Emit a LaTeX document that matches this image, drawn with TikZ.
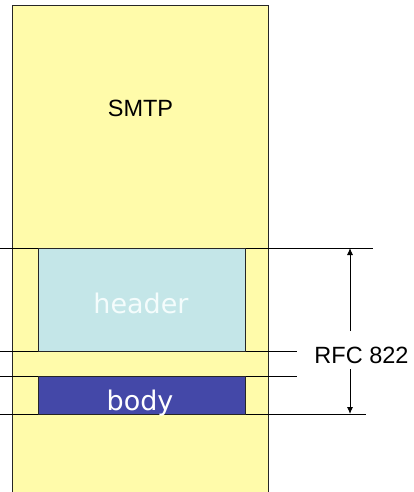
\documentclass[tikz,border=0pt]{standalone}
\usepackage{fontspec}
\setmainfont{Liberation Sans}
\newfontfamily\comicish{DejaVu Sans}
\usetikzlibrary{arrows.meta}
\definecolor{smtpyellow}{HTML}{FFFBAA}
\definecolor{hdrblue}{HTML}{C4E6E8}
\definecolor{bodyblue}{HTML}{4448A8}
\definecolor{hdrtext}{HTML}{F4FCFC}
\tikzset{
  part/.style={draw=black!85, line width=1pt, inner sep=0pt, anchor=north west},
  rule/.style={draw=black, line width=0.9pt},
  arial/.style={font=\fontsize{23.5}{26}\selectfont, text=black, inner sep=0pt, anchor=base},
  comic/.style={font=\comicish\fontsize{27}{30}\selectfont, inner sep=0pt, anchor=base},
  dim/.style={draw=black, line width=0.9pt, -{Latex[length=7pt,width=6pt]}}
}
\begin{document}
\begin{tikzpicture}[x=1pt,y=-1pt]
\useasboundingbox (0,0) rectangle (413,492);
\clip (0,0) rectangle (413,492);
% SMTP envelope
\node[part, fill=smtpyellow, minimum width=256pt, minimum height=500pt] (smtp) at (12,5) {};
\node[arial] (smtplabel) at (140.5,117) {SMTP};
% horizontal rules
\coordinate (l1a) at (0,248);   \coordinate (l1b) at (373,248);
\coordinate (l2a) at (0,351);   \coordinate (l2b) at (297,351);
\coordinate (l3a) at (0,376);   \coordinate (l3b) at (297,376);
\coordinate (l4a) at (0,414);   \coordinate (l4b) at (366,414);
\draw[rule] (l1a) -- (l1b);
\draw[rule] (l2a) -- (l2b);
\draw[rule] (l3a) -- (l3b);
\draw[rule] (l4a) -- (l4b);
% header and body
\node[part, fill=hdrblue, minimum width=207pt, minimum height=103pt] (header) at (38,248) {};
\node[comic, text=hdrtext] (headerlabel) at (141,313) {header};
\node[part, fill=bodyblue, minimum width=207pt, minimum height=38pt] (body) at (38,376) {};
\node[comic, text=white] (bodylabel) at (140,410) {body};
% RFC 822 dimension
\node[arial] (rfc) at (361.5,363) {RFC 822};
\coordinate (atop) at (350,248);
\coordinate (abot) at (350,414);
\coordinate (gtop) at (350,331);
\coordinate (gbot) at (350,369);
\draw[dim] (gtop) -- (atop);
\draw[dim] (gbot) -- (abot);
\end{tikzpicture}
\end{document}
